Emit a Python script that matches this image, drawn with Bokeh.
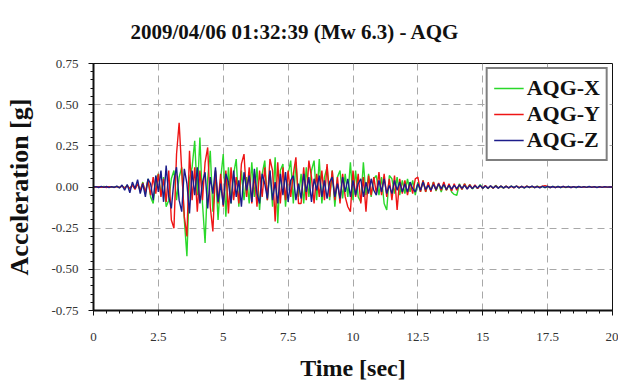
import numpy as np
from bokeh.plotting import figure
from bokeh.models import FixedTicker, Legend, LegendItem, Title, NumeralTickFormatter, Range1d
from bokeh.embed import file_html
from bokeh.resources import INLINE

# time axis [sec], 0.1 s step
t = [round(i * 0.1, 1) for i in range(201)]

acc_x = [
    0, 0.002, 0.001, -0.002, 0.003, -0.001, 0.002, -0.002, 0.001, 0.003,
    -0.004, 0.006, -0.005, 0.01, -0.012, 0.015, -0.01, 0.02, -0.025, 0.03,
    -0.04, 0.05, -0.06, -0.1, 0.04, 0.08, -0.05, 0.06, -0.12, -0.08,
    0.05, 0.1, -0.08, 0.06, 0.12, -0.2, -0.42, 0.05, 0.12, 0.28,
    -0.05, 0.3, -0.1, -0.34, 0.05, 0.22, -0.15, 0.1, -0.2, 0.05,
    0.2, -0.18, 0.12, -0.1, 0.08, 0.17, -0.12, 0.1, -0.08, 0.06,
    -0.1, 0.15, -0.06, 0.12, -0.14, 0.08, 0.16, -0.08, 0.1, -0.12,
    0.18, -0.22, 0.1, 0.14, -0.12, 0.08, 0.16, -0.1, 0.15, -0.06,
    0.08, -0.1, 0.12, -0.06, 0.1, 0.16, -0.08, 0.17, -0.1, 0.06,
    0.12, -0.08, 0.1, -0.12, 0.06, 0.1, -0.07, 0.08, -0.06, 0.15,
    -0.08, 0.1, -0.06, -0.09, 0.15, -0.05, 0.08, -0.06, 0.05, 0.07,
    -0.05, 0.06, -0.1, -0.14, 0.07, 0.05, -0.04, 0.06, -0.05, 0.04,
    -0.04, 0.05, -0.03, 0.04, -0.05, 0.03, -0.03, 0.04, -0.03, 0.02,
    -0.02, 0.03, -0.025, 0.02, -0.03, 0.02, -0.02, 0.015, -0.03, -0.045,
    -0.05, 0.02, -0.015, 0.02, -0.01, 0.015, -0.012, 0.01, -0.01, 0.015,
    -0.01, 0.008, -0.01, 0.006, -0.008, 0.01, -0.006, 0.005, -0.007, 0.006,
    -0.006, 0.005, -0.004, 0.006, -0.005, 0.004, -0.006, 0.005, -0.004, 0.003,
    -0.004, 0.005, -0.003, 0.004, -0.004, 0.003, -0.003, 0.004, -0.002, 0.003,
    -0.003, 0.002, -0.003, 0.003, -0.002, 0.002, -0.003, 0.002, -0.002, 0.002,
    -0.002, 0.002, -0.001, 0.002, -0.002, 0.001, -0.002, 0.001, -0.001, 0.001, 0.0,
]

acc_y = [
    0, -0.001, 0.002, -0.002, 0.001, -0.003, 0.002, 0.001, -0.002, 0.002,
    -0.003, 0.005, -0.006, 0.008, -0.01, 0.012, -0.015, 0.02, -0.02, 0.025,
    -0.03, 0.04, -0.05, 0.06, -0.04, 0.08, -0.06, 0.05, -0.09, 0.1,
    -0.2, -0.25, 0.2, 0.39, 0.1, -0.18, -0.3, 0.22, -0.08, 0.12,
    -0.15, 0.1, -0.08, 0.15, 0.24, -0.12, -0.27, 0.1, -0.1, 0.08,
    -0.12, 0.1, -0.16, 0.12, -0.08, 0.06, -0.1, 0.14, 0.2, -0.06,
    0.12, -0.1, 0.08, -0.12, 0.1, -0.06, 0.12, -0.08, 0.17, 0.1,
    -0.21, 0.15, -0.1, 0.12, -0.08, 0.1, -0.06, 0.08, 0.18, -0.1,
    -0.1, 0.12, -0.08, 0.16, 0.06, -0.1, 0.08, -0.06, 0.1, -0.08,
    0.14, -0.06, 0.1, -0.08, 0.06, -0.1, 0.08, -0.06, -0.12, -0.15,
    0.1, -0.06, 0.08, -0.1, 0.06, -0.15, 0.07, -0.05, 0.06, -0.04,
    0.09, -0.05, 0.08, -0.06, 0.05, -0.08, 0.07, -0.14, 0.05, -0.04,
    0.04, -0.05, 0.03, -0.04, 0.05, 0.06, -0.03, 0.04, -0.03, 0.03,
    -0.03, 0.03, -0.02, 0.025, -0.02, 0.03, -0.02, 0.02, -0.025, 0.02,
    -0.02, 0.015, -0.015, 0.02, -0.012, 0.015, -0.01, 0.012, -0.01, 0.01,
    -0.008, 0.01, -0.008, 0.006, -0.007, 0.008, -0.006, 0.005, -0.006, 0.005,
    -0.005, 0.004, -0.005, 0.006, -0.004, 0.003, -0.004, 0.005, -0.003, 0.004,
    -0.003, 0.004, -0.003, 0.005, 0.008, 0.004, -0.003, 0.002, -0.003, 0.002,
    -0.002, 0.003, -0.002, 0.002, -0.003, 0.002, -0.002, 0.002, -0.002, 0.001,
    -0.002, 0.002, -0.001, 0.001, -0.002, 0.001, -0.001, 0.001, -0.001, 0.001, 0.0,
]

acc_z = [
    0, 0.002, -0.003, 0.004, -0.002, 0.003, -0.004, 0.002, -0.003, 0.005,
    -0.006, 0.012, -0.02, 0.015, -0.035, 0.03, -0.01, 0.045, -0.04, 0.02,
    -0.06, 0.05, 0.02, -0.08, 0.07, -0.03, 0.1, -0.09, 0.13, -0.06,
    -0.13, 0.04, 0.12, -0.08, -0.15, 0.11, 0.02, -0.16, 0.1, -0.05,
    0.12, -0.1, 0.03, 0.09, -0.13, 0.06, -0.04, 0.12, -0.09, 0.02,
    -0.11, 0.08, 0.03, -0.1, 0.1, -0.06, 0.04, -0.12, 0.09, -0.02,
    0.07, -0.09, 0.11, -0.04, -0.1, 0.08, 0.02, -0.07, 0.1, -0.08,
    0.03, -0.1, 0.08, -0.05, 0.09, -0.09, 0.04, 0.07, -0.08, 0.02,
    -0.07, 0.08, -0.03, 0.06, -0.09, 0.05, -0.02, 0.07, -0.06, 0.04,
    -0.07, 0.03, 0.06, -0.06, 0.02, -0.07, 0.06, -0.03, 0.05, -0.06,
    0.04, -0.05, 0.02, 0.05, -0.06, 0.03, -0.04, 0.05, -0.02, -0.05,
    0.04, -0.03, 0.05, -0.04, 0.01, -0.04, 0.04, -0.02, 0.03, -0.03,
    0.02, -0.03, 0.03, -0.01, -0.03, 0.02, -0.02, 0.03, -0.015, 0.01,
    -0.02, 0.015, -0.015, 0.02, -0.01, 0.015, -0.015, 0.01, -0.012, 0.01,
    -0.01, 0.012, -0.008, 0.01, -0.012, 0.008, -0.01, 0.008, -0.006, 0.01,
    -0.008, 0.006, -0.007, 0.008, -0.006, 0.005, -0.007, 0.006, -0.005, 0.004,
    -0.005, 0.006, -0.004, 0.005, -0.006, 0.004, -0.005, 0.004, -0.003, 0.005,
    -0.004, 0.003, -0.005, 0.004, -0.003, 0.004, -0.003, 0.003, -0.004, 0.003,
    -0.003, 0.004, -0.002, 0.003, -0.003, 0.002, -0.003, 0.003, -0.002, 0.002,
    -0.002, 0.003, -0.002, 0.002, -0.003, 0.002, -0.002, 0.002, -0.001, 0.001, 0.0,
]

series_names = ["AQG-X", "AQG-Y", "AQG-Z"]
series_colors = ["#2ad82a", "#ee1515", "#1c1c8a"]

x_major = [0, 2.5, 5, 7.5, 10, 12.5, 15, 17.5, 20]
y_major = [-0.75, -0.5, -0.25, 0.0, 0.25, 0.5, 0.75]

TITLE = "2009/04/06 01:32:39 (Mw 6.3) - AQG"
SERIF = "Liberation Serif"

p = figure(width=618, height=390, output_backend="svg", toolbar_location=None,
           x_range=Range1d(0, 20), y_range=Range1d(-0.75, 0.75),
           min_border_left=93, min_border_right=6, min_border_top=63,
           min_border_bottom=80)

p.title = Title(text=TITLE, align="left", vertical_align="top",
                offset=37, standoff=36, text_font=SERIF, text_font_size="21px",
                text_font_style="bold", text_color="#111111")

items = []
for vals, name, col in zip([acc_x, acc_y, acc_z], series_names, series_colors):
    r = p.line(t, vals, line_color=col, line_width=1.4)
    items.append(LegendItem(label=name, renderers=[r]))

legend = Legend(items=items, location="top_right",
                label_text_font=SERIF, label_text_font_size="22px",
                label_text_font_style="bold", label_text_color="#111111",
                glyph_width=30, glyph_height=24, label_standoff=3,
                spacing=0, padding=6, margin=4,
                label_height=24,
                border_line_color="black", border_line_width=2,
                background_fill_alpha=1.0)
p.add_layout(legend)

# axes
p.xaxis.ticker = FixedTicker(ticks=x_major,
                             minor_ticks=[i * 0.5 for i in range(41)])
p.yaxis.ticker = FixedTicker(ticks=y_major,
                             minor_ticks=[round(-0.75 + i * 0.05, 2) for i in range(31)])
p.yaxis.formatter = NumeralTickFormatter(format="0.00")

for ax in (p.xaxis, p.yaxis):
    ax.axis_line_width = 2
    ax.axis_line_color = "#111111"
    ax.major_tick_line_color = "#111111"
    ax.minor_tick_line_color = "#111111"
    ax.major_tick_out = 5
    ax.major_tick_in = 0
    ax.minor_tick_out = 3
    ax.minor_tick_in = 0
    ax.major_label_text_font = SERIF
    ax.major_label_text_font_size = "13px"
    ax.major_label_text_color = "#333333"
    ax.axis_label_text_font = SERIF
    ax.axis_label_text_font_style = "bold"
    ax.axis_label_text_color = "#111111"

p.xaxis.axis_label_text_font_size = "24px"
p.yaxis.axis_label_text_font_size = "26px"
p.xaxis.axis_label = "Time [sec]"
p.yaxis.axis_label = "Acceleration [g]"
p.xaxis.major_label_standoff = 17
p.yaxis.major_label_standoff = 10
p.xaxis.axis_label_standoff = 11
p.yaxis.axis_label_standoff = 14

p.xgrid.ticker = FixedTicker(ticks=x_major[1:-1])
p.ygrid.ticker = FixedTicker(ticks=[-0.5, -0.25, 0.25, 0.5])
for g in (p.xgrid, p.ygrid):
    g.grid_line_color = "#a8a8a8"
    g.grid_line_dash = "7 5"
    g.grid_line_width = 1

p.outline_line_color = "#111111"
p.outline_line_width = 1
p.background_fill_color = "white"
p.border_fill_color = "white"

open("out.html", "w").write(file_html(p, INLINE))
